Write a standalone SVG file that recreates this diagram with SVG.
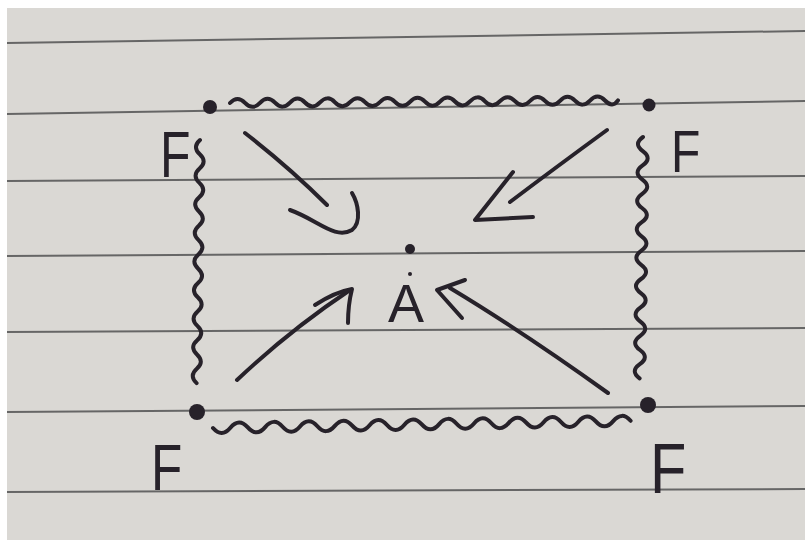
<svg xmlns="http://www.w3.org/2000/svg" width="805" height="540" viewBox="0 0 805 540">
  <style>
    .paper { fill: #dad8d4; }
    .rule { stroke: #666666; stroke-width: 2; fill: none; }
    .ink { stroke: #27222a; stroke-width: 4; fill: none; stroke-linecap: round; stroke-linejoin: round; }
    .dot { fill: #27222a; }
    .lbl { font-family: "Liberation Sans", Arial, sans-serif; fill: #27222a; }
  </style>
  <rect x="0" y="0" width="805" height="540" fill="#ffffff"/>
  <rect class="paper" x="7" y="8" width="798" height="532"/>
  <g id="rules">
    <line class="rule" x1="7" y1="43" x2="805" y2="31"/>
    <line class="rule" x1="7" y1="114" x2="805" y2="101"/>
    <line class="rule" x1="7" y1="181" x2="805" y2="176"/>
    <line class="rule" x1="7" y1="256" x2="805" y2="251"/>
    <line class="rule" x1="7" y1="332" x2="805" y2="328"/>
    <line class="rule" x1="7" y1="412" x2="805" y2="406"/>
    <line class="rule" x1="7" y1="492" x2="805" y2="489"/>
  </g>
  <g id="connectors">
    <path class="ink" d="M230,103 q7.5,-8 15,-0.1 t15,-0.1 t15,-0.1 t15,-0.1 t15,-0.1 t15,-0.1 t15,-0.1 t15,-0.1 t15,-0.1 t15,-0.1 t15,-0.1 t15,-0.1 t15,-0.1 t15,-0.1 t15,-0.1 t15,-0.1 t15,-0.1 t15,-0.1 t15,-0.1 t15,-0.1 t15,-0.1 t15,-0.1 t15,-0.1 t15,-0.1 t15,-0.1 t13,-0.1"/>
    <path class="ink" d="M213,428 q8.7,10 17.4,-0.3 t17.4,-0.3 t17.4,-0.3 t17.4,-0.3 t17.4,-0.3 t17.4,-0.3 t17.4,-0.3 t17.4,-0.3 t17.4,-0.3 t17.4,-0.3 t17.4,-0.3 t17.4,-0.3 t17.4,-0.3 t17.4,-0.3 t17.4,-0.3 t17.4,-0.3 t17.4,-0.3 t17.4,-0.3 t17.4,-0.3 t17.4,-0.3 t17.4,-0.3 t17.4,-0.3 t17.4,-0.3 t17.4,-0.3"/>
    <path class="ink" d="M200,140 q-8,7 -0.2,14.3 t-0.2,14.3 t-0.2,14.3 t-0.2,14.3 t-0.2,14.3 t-0.2,14.3 t-0.2,14.3 t-0.2,14.3 t-0.2,14.3 t-0.2,14.3 t-0.2,14.3 t-0.2,14.3 t-0.2,14.3 t-0.2,14.3 t-0.2,14.3 t-0.2,14.3 t-0.2,14.3"/>
    <path class="ink" d="M643,137 q-10,7 -0.2,14.2 t-0.2,14.2 t-0.2,14.2 t-0.2,14.2 t-0.2,14.2 t-0.2,14.2 t-0.2,14.2 t-0.2,14.2 t-0.2,14.2 t-0.2,14.2 t-0.2,14.2 t-0.2,14.2 t-0.2,14.2 t-0.2,14.2 t-0.2,14.2 t-0.2,14.2 t-0.2,14.2"/>
    <path class="ink" d="M245,133 Q290,168 327,205"/>
    <path class="ink" d="M290,210 C318,220 335,240 352,230 C362,222 358,203 352,193"/>
    <path class="ink" d="M607,130 Q555,168 510,202"/>
    <path class="ink" d="M513,172 L475,220 L533,217"/>
    <path class="ink" d="M237,380 Q290,330 350,290"/>
    <path class="ink" d="M315,305 Q335,292 352,289 Q348,305 348,323"/>
    <path class="ink" d="M608,393 Q520,330 450,288"/>
    <path class="ink" d="M465,280 L437,290 L462,318"/>
  </g>
  <g id="node-F-top-left">
    <circle class="dot" cx="210" cy="107" r="7"/>
    <text class="lbl" font-size="64" transform="translate(160,177) scale(0.78,1)">F</text>
  </g>
  <g id="node-F-top-right">
    <circle class="dot" cx="649" cy="105" r="6.5"/>
    <text class="lbl" font-size="60" transform="translate(671,172) scale(0.8,1)">F</text>
  </g>
  <g id="node-F-bottom-left">
    <circle class="dot" cx="197" cy="412" r="8"/>
    <text class="lbl" font-size="64" transform="translate(151,490) scale(0.8,1)">F</text>
  </g>
  <g id="node-F-bottom-right">
    <circle class="dot" cx="648" cy="405" r="8"/>
    <text class="lbl" font-size="70" transform="translate(650,493) scale(0.85,1)">F</text>
  </g>
  <g id="node-A">
    <circle class="dot" cx="410" cy="249" r="5"/>
    <circle class="dot" cx="410" cy="274" r="2"/>
    <text class="lbl" x="406" y="322" font-size="54" text-anchor="middle">A</text>
  </g>
</svg>
